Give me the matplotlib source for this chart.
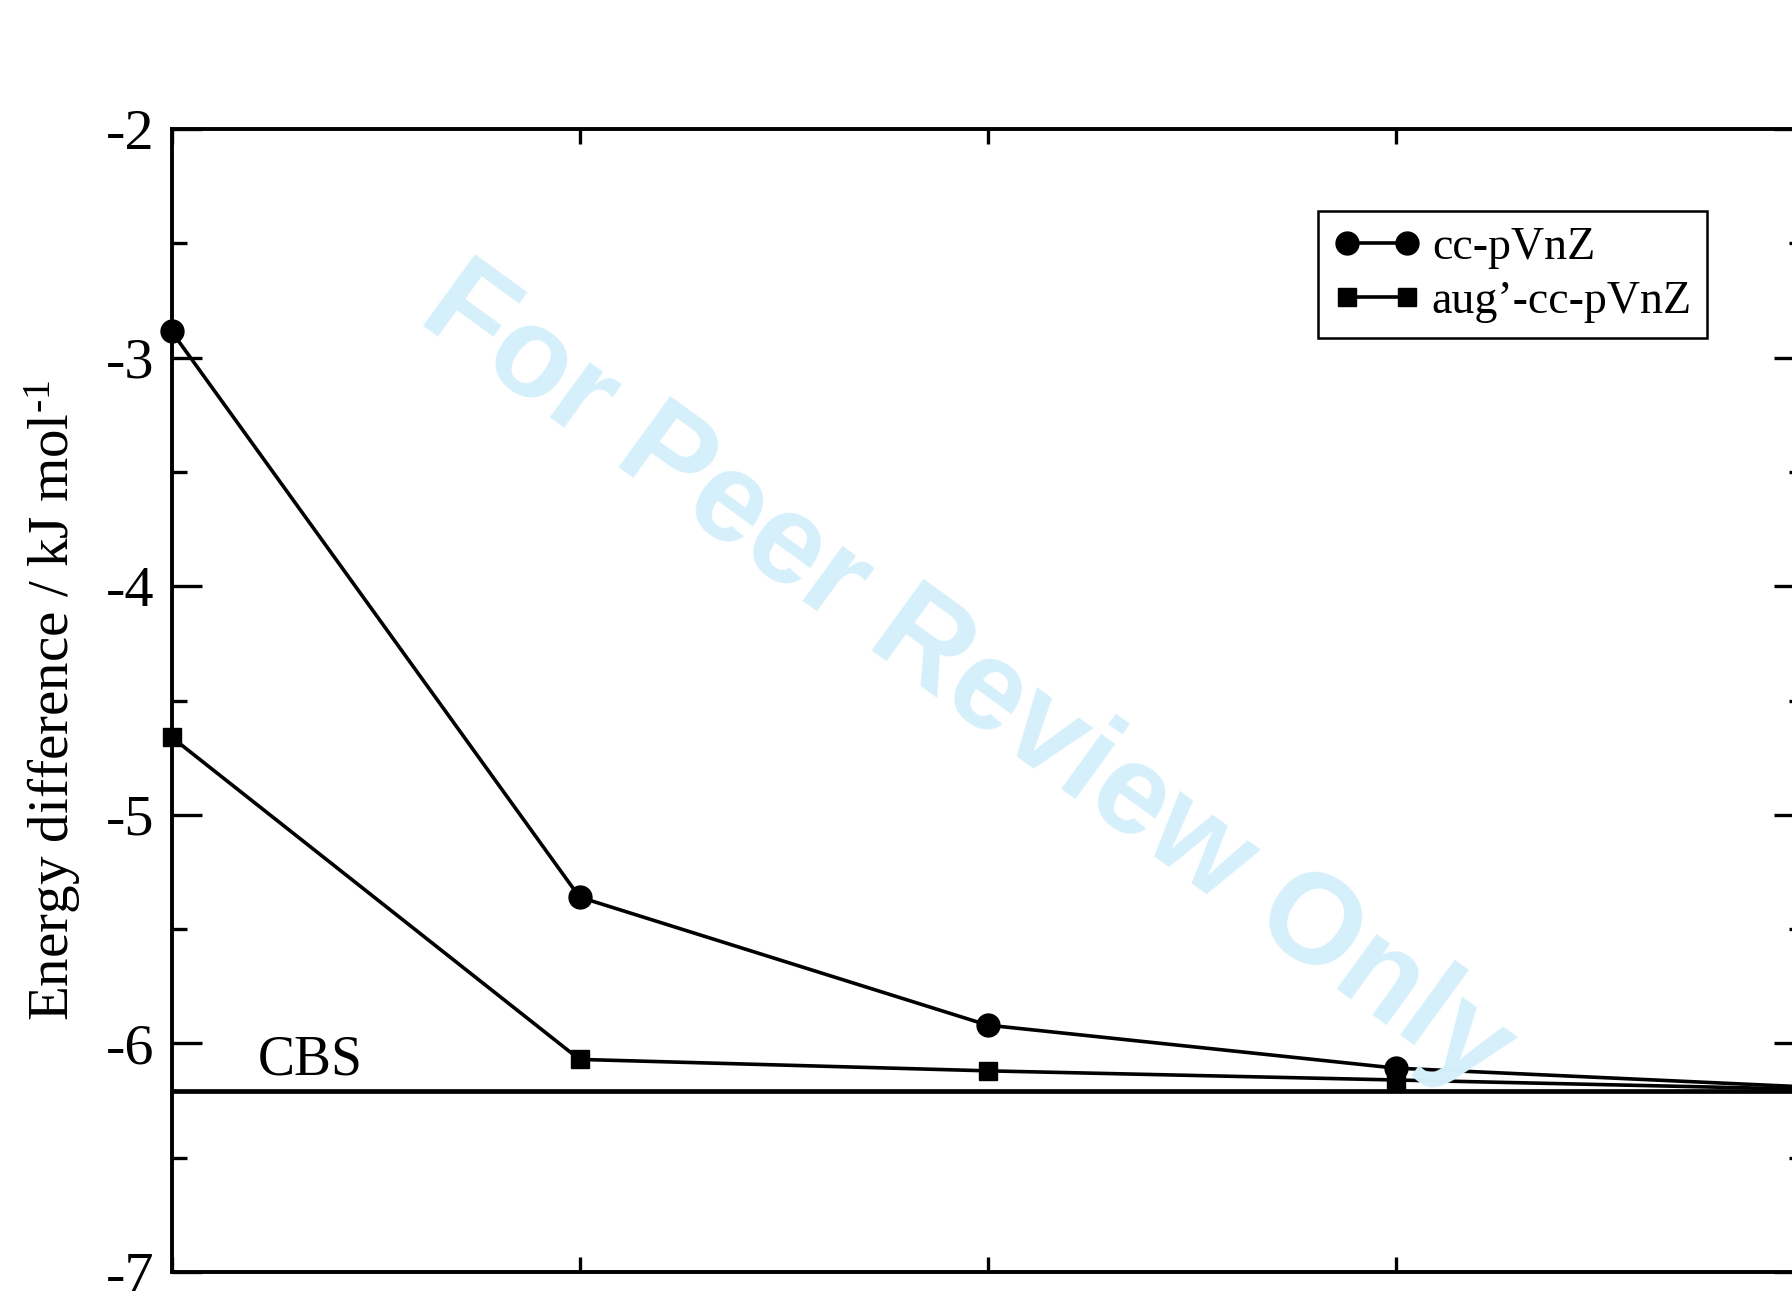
import matplotlib
matplotlib.use("Agg")
import matplotlib.pyplot as plt

# basis set cardinal number n (D, T, Q, 5, 6)
n = [2, 3, 4, 5, 6]
cc_pvnz = [-2.885, -5.36, -5.92, -6.108, -6.19]
aug_cc_pvnz = [-4.66, -6.07, -6.12, -6.16, -6.20]
cbs = -6.21

plt.rcParams["font.family"] = ["Liberation Serif", "DejaVu Serif"]
plt.rcParams["mathtext.fontset"] = "custom"
plt.rcParams["mathtext.rm"] = "Liberation Serif"
plt.rcParams["mathtext.it"] = "Liberation Serif:italic"
plt.rcParams["axes.unicode_minus"] = False

fig = plt.figure(figsize=(17.92, 12.91), dpi=100)
# axes run past the right and bottom edges, like the cropped original
ax = fig.add_axes([171.5 / 1792, 1 - 1272 / 1291, 1632 / 1792, 1143 / 1291])
ax.set_facecolor("none")

# watermark
fig.text(416 / 1792, 1 - 320 / 1291, "For Peer Review Only", fontsize=92,
         family="Liberation Sans", weight="bold", color="#d6f0fb",
         rotation=-36, rotation_mode="anchor", ha="left", va="baseline",
         zorder=0)

ax.axhline(cbs, color="black", lw=3.4, zorder=2)
ax.plot(n, cc_pvnz, "-o", color="black", lw=2.6, ms=16.5, label="cc-pVnZ",
        zorder=3, clip_on=False)
ax.plot(n, aug_cc_pvnz, "-s", color="black", lw=2.6, ms=13, label="aug’-cc-pVnZ",
        zorder=3, clip_on=False)
ax.text(2.212, -6.138, "CBS", fontsize=40, ha="left", va="baseline")

ax.set_xlim(2, 6)
ax.set_ylim(-7, -2)
ax.set_xticks(n)
ax.set_yticks([-7, -6, -5, -4, -3, -2])
ax.set_yticks([-6.5, -5.5, -4.5, -3.5, -2.5], minor=True)
ax.tick_params(axis="x", which="major", direction="in", length=11, width=2.4,
               top=True, labelbottom=False)
ax.tick_params(axis="y", which="major", direction="in", length=21.5, width=2.4,
               right=True, labelsize=42, pad=12)
ax.tick_params(axis="y", which="minor", direction="in", length=11, width=2.4,
               right=True)
for s in ax.spines.values():
    s.set_linewidth(2.8)

ax.set_ylabel("Energy difference / kJ mol$^{\\text{-1}}$", fontsize=41)
ax.yaxis.set_label_coords(-0.054, 0.5)

leg = ax.legend(loc="upper right", bbox_to_anchor=(1707 / 1792, 1 - 211 / 1291),
                bbox_transform=fig.transFigure, borderaxespad=0, fontsize=33,
                numpoints=2, handlelength=1.9, handletextpad=0.25,
                labelspacing=0.25, borderpad=0.33, fancybox=False, framealpha=1)
leg.get_frame().set_edgecolor("black")
leg.get_frame().set_linewidth(1.8)

fig.savefig("out.png", dpi=100)
